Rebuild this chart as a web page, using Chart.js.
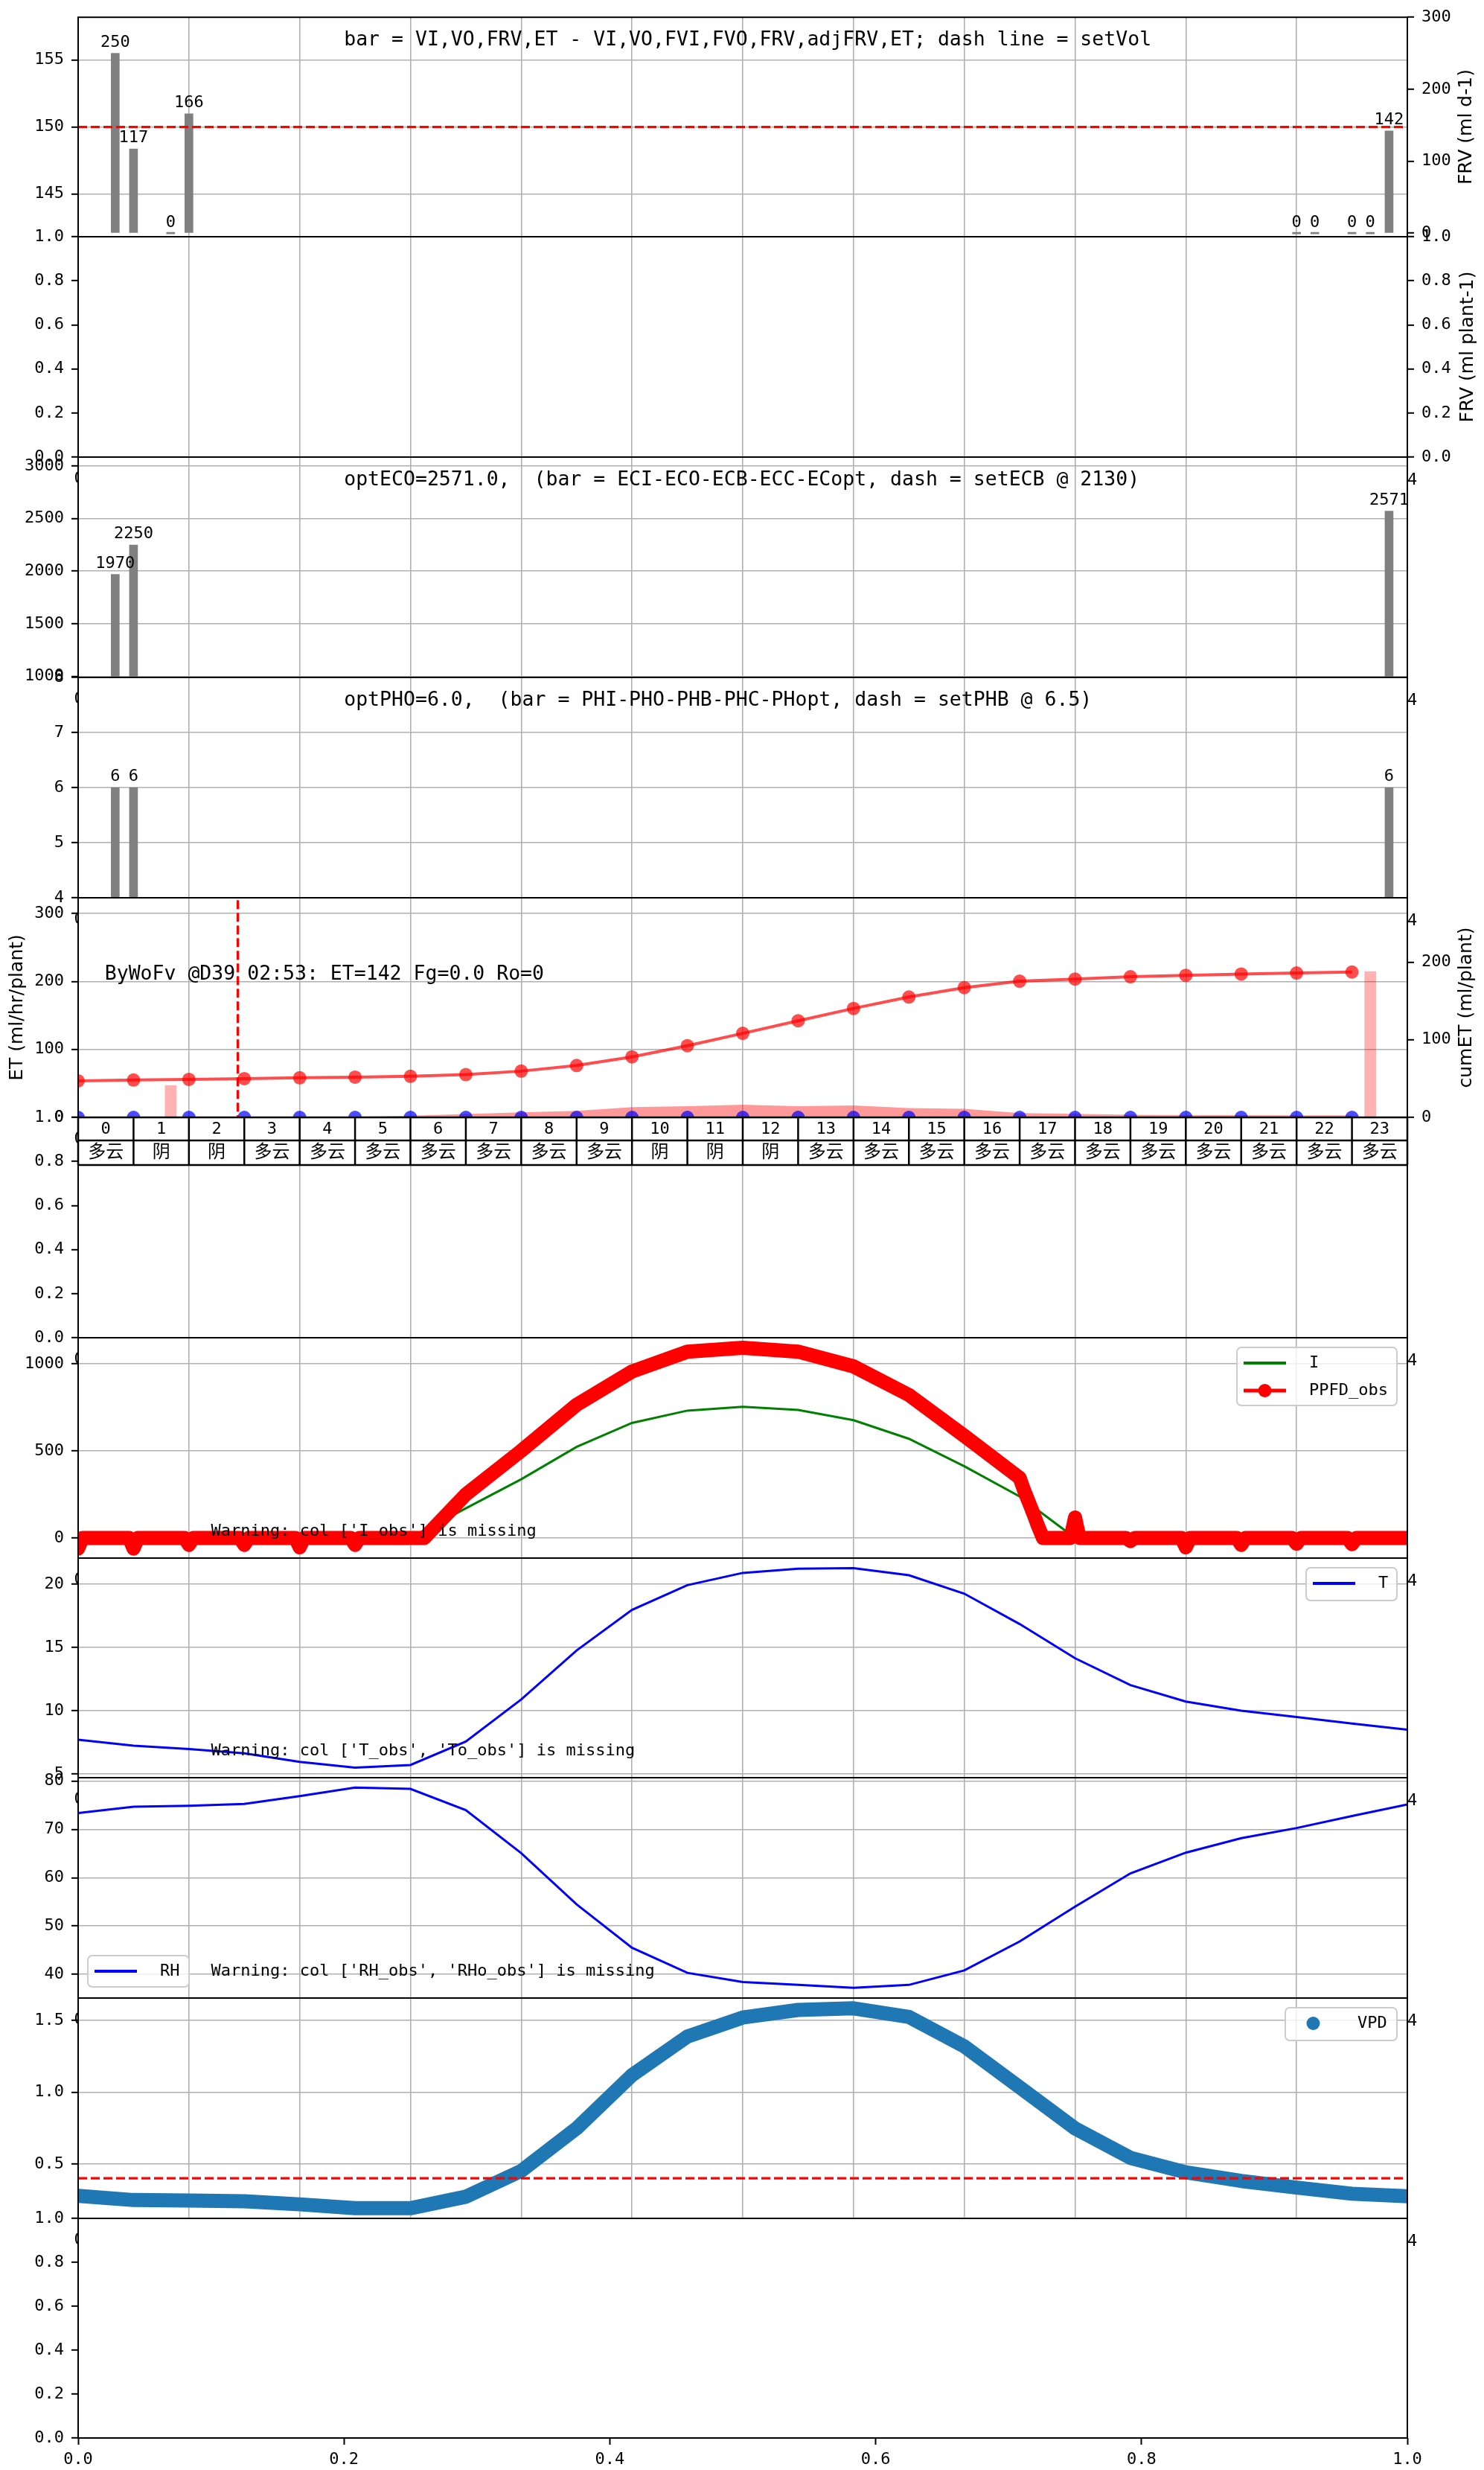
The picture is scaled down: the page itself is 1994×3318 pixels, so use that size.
<!DOCTYPE html>
<html lang="en">
<head>
<meta charset="UTF-8">
<title>Daily irrigation panels</title>
<style>
  html, body { margin: 0; padding: 0; background: #fff; }
  #wrap { position: relative; width: 1994px; height: 3318px; overflow: hidden; background: #fff; }
  #wrap canvas { position: absolute; left: 0; }
</style>
</head>
<body>
<div id="wrap"></div>
<script src="https://cdn.jsdelivr.net/npm/chart.js"></script>
<script>
// ---- values ----
const hours = [0, 1, 2, 3, 4, 5, 6, 7, 8, 9, 10, 11, 12, 13, 14, 15, 16, 17, 18, 19, 20, 21, 22, 23];
const hours25 = [0, 1, 2, 3, 4, 5, 6, 7, 8, 9, 10, 11, 12, 13, 14, 15, 16, 17, 18, 19, 20, 21, 22, 23, 24];

// irrigation events (hour of day) and FRV
const frvTimes = [0.67, 1.0, 1.67, 2.0, 22.0, 22.33, 23.0, 23.33, 23.67];
const frvValues = [250, 117, 0, 166, 0, 0, 0, 0, 142];
const setVolLine = [0, 24];
const setVol = 150;

const ecoTimes = [0.67, 1.0, 23.67];
const ecoValues = [1970, 2250, 2571];

const phoTimes = [0.67, 1.0, 23.67];
const phoValues = [6, 6, 6];

// ET panel
const cumET = [47.1, 48.1, 49.0, 50.0, 51.0, 51.9, 52.9, 55.1, 59.6, 66.9, 78.0, 92.4,
               108.3, 124.5, 140.4, 155.1, 167.2, 175.5, 178.3, 181.2, 183.1, 184.7, 186.0, 187.3];
const etHourly = [0, 0, 0, 0, 0.3, 1.0, 2.5, 4.8, 7.3, 9.5, 15.0, 16.5,
                  18.7, 16.5, 17.6, 13.6, 12.5, 6.2, 5.1, 3.7, 3.3, 3.3, 2.9, 2.9];
const obsZero = [0, 0, 0, 0, 0, 0, 0, 0, 0, 0, 0, 0, 0, 0, 0, 0, 0, 0, 0, 0, 0, 0, 0, 0];
const etBarTimes = [1.67, 23.33];
const etBarValues = [41, 188];
const nowHour = 2.883;
const nowSpan = [-10, 340];

// weather table
const weather = ['多云', '阴', '阴', '多云', '多云', '多云', '多云', '多云', '多云', '多云', '阴', '阴',
                 '阴', '多云', '多云', '多云', '多云', '多云', '多云', '多云', '多云', '多云', '多云', '多云'];

// light
const lightI = [0, 0, 0, 0, 0, 0, 0, 170, 337, 523, 661, 732, 754, 736, 677, 570, 412, 238, 0, 0, 0, 0, 0, 0];
const ppfdTimes = [0, 0.08, 0.92, 1, 1.08, 1.92, 2, 2.08, 2.92, 3, 3.08, 3.92, 4, 4.08, 4.92, 5, 5.08,
                   6.25, 7, 8, 9, 10, 11, 12, 13, 14, 15, 16, 17, 17.08, 17.17, 17.25, 17.33, 17.42,
                   17.92, 18, 18.08, 18.92, 19, 19.08, 19.92, 20, 20.08, 20.92, 21, 21.08, 21.92,
                   22, 22.08, 22.92, 23, 23.08, 24];
const ppfdValues = [-61, 0, 0, -61, 0, 0, -40, 0, 0, -40, 0, 0, -54, 0, 0, -40, 0,
                    0, 250, 501, 765, 957, 1071, 1093, 1071, 986, 822, 587, 345, 273, 202, 138, 70, 0,
                    0, 117, 0, 0, -18, 0, 0, -54, 0, 0, -40, 0, 0,
                    -33, 0, 0, -36, 0, 0];

// climate
const tempT = [7.72, 7.25, 6.98, 6.64, 5.97, 5.52, 5.72, 7.58, 10.9, 14.77, 17.98, 19.93, 20.9,
               21.23, 21.28, 20.72, 19.26, 16.86, 14.16, 12.03, 10.73, 10.01, 9.52, 9.0, 8.51];
const rhValues = [73.4, 74.7, 74.9, 75.3, 76.9, 78.7, 78.4, 74.0, 65.1, 54.5, 45.5, 40.3, 38.4,
                  37.8, 37.2, 37.8, 40.8, 46.8, 54.0, 60.9, 65.2, 68.2, 70.3, 72.8, 75.2];
const vpdValues = [0.277, 0.248, 0.244, 0.239, 0.218, 0.191, 0.191, 0.271, 0.451, 0.748, 1.119, 1.388, 1.521,
                   1.574, 1.585, 1.525, 1.32, 1.034, 0.748, 0.542, 0.441, 0.381, 0.335, 0.292, 0.275];
const vpdSet = 0.4;

// tick values
const hourGridTicks = [0, 2, 4, 6, 8, 10, 12, 14, 16, 18, 20, 22, 24];
const dayTicks = [0, 0.2, 0.4, 0.6, 0.8, 1.0];
const unitTicks = [0, 0.2, 0.4, 0.6, 0.8, 1.0];
const frvLeftTicks = [145, 150, 155];
const frvRightTicks = [0, 100, 200, 300];
const ecoTicks = [1000, 1500, 2000, 2500, 3000];
const phoTicks = [4, 5, 6, 7, 8];
const etTicks = [0, 100, 200, 300];
const cumTicks = [0, 100, 200];
const ppfdTicks = [0, 500, 1000];
const tTicks = [5, 10, 15, 20];
const rhTicks = [40, 50, 60, 70, 80];
const vpdTicks = [0.5, 1.0, 1.5];

const title1 = 'bar = VI,VO,FRV,ET - VI,VO,FVI,FVO,FRV,adjFRV,ET; dash line = setVol';
const title3 = 'optECO=2571.0,  (bar = ECI-ECO-ECB-ECC-ECopt, dash = setECB @ 2130)';
const title4 = 'optPHO=6.0,  (bar = PHI-PHO-PHB-PHC-PHopt, dash = setPHB @ 6.5)';
const etNote = 'ByWoFv @D39 02:53: ET=142 Fg=0.0 Ro=0';
const warnI = "Warning: col ['I_obs'] is missing";
const warnT = "Warning: col ['T_obs', 'To_obs'] is missing";
const warnRH = "Warning: col ['RH_obs', 'RHo_obs'] is missing";

// ---- layout ----
const FONT = "'DejaVu Sans Mono', 'Noto Sans CJK SC', monospace";
const LABEL_FONT = "'DejaVu Sans', 'Noto Sans CJK SC', sans-serif";
const FIG_W = 1994, FIG_H = 3318, PLOT_L = 105, PLOT_R = 1891;
const TOP0 = 22.7, PANEL_H = 295.7, MARGIN = 40;
const GRID = '#b0b0b0';
const wrap = document.getElementById('wrap');

Chart.defaults.font.family = FONT;
Chart.defaults.font.size = 22;
Chart.defaults.color = '#000';

const pts = (xs, ys) => xs.map((x, i) => ({ x: x, y: ys[i] }));
const f1 = v => Number(v).toFixed(1);
const fixTicks = vals => (s => { s.ticks = vals.map(v => ({ value: v })); });

function xAxis() {
    return {
        type: 'linear', position: 'bottom', min: 0, max: 24, offset: false,
        afterBuildTicks: fixTicks(hourGridTicks),
        ticks: { display: false },
        grid: { display: true, color: GRID, lineWidth: 1.6, drawTicks: false, offset: false },
        border: { display: false },
        afterFit: s => { s.height = 0; }
    };
}

function yAxis(pos, min, max, tickVals, opts) {
    opts = opts || {};
    return {
        type: 'linear', position: pos, min: min, max: max,
        afterBuildTicks: fixTicks(tickVals),
        ticks: { autoSkip: false, padding: 10, callback: opts.fmt || (v => String(v)) },
        grid: { display: true, drawOnChartArea: !!opts.grid, color: GRID, lineWidth: 1.6,
                drawTicks: true, tickLength: 9, tickColor: '#000', tickWidth: 2 },
        border: { display: false },
        afterFit: s => { s.width = pos === 'left' ? PLOT_L : FIG_W - PLOT_R; }
    };
}

function roundRect(ctx, x, y, w, h, r) {
    ctx.beginPath();
    ctx.moveTo(x + r, y);
    ctx.arcTo(x + w, y, x + w, y + h, r);
    ctx.arcTo(x + w, y + h, x, y + h, r);
    ctx.arcTo(x, y + h, x, y, r);
    ctx.arcTo(x, y, x + w, y, r);
    ctx.closePath();
}

function drawLegend(ctx, a, lg) {
    const x0 = lg.right != null ? a.right - lg.right - lg.w : a.left + lg.left;
    const y0 = lg.top != null ? a.top + lg.top : a.bottom - lg.bottom - lg.h;
    roundRect(ctx, x0, y0, lg.w, lg.h, 6);
    ctx.fillStyle = 'rgba(255,255,255,0.8)';
    ctx.fill();
    ctx.strokeStyle = '#cccccc';
    ctx.lineWidth = 2;
    ctx.stroke();
    lg.items.forEach((it, k) => {
        const cy = y0 + 21 + k * 37;
        if (it.lw) {
            ctx.strokeStyle = it.color;
            ctx.lineWidth = it.lw;
            ctx.beginPath();
            ctx.moveTo(x0 + 9, cy);
            ctx.lineTo(x0 + 66, cy);
            ctx.stroke();
        }
        if (it.r) {
            ctx.fillStyle = it.color;
            ctx.beginPath();
            ctx.arc(x0 + 37.5, cy, it.r, 0, Math.PI * 2);
            ctx.fill();
        }
        ctx.fillStyle = '#000';
        ctx.font = '22px ' + FONT;
        ctx.textAlign = 'left';
        ctx.textBaseline = 'middle';
        ctx.fillText(it.label, x0 + 97, cy);
    });
}

function drawTable(chart) {
    const ctx = chart.ctx, a = chart.chartArea, xs = chart.scales.x;
    const r1 = a.top, r2 = a.top + 31, r3 = a.top + 64;
    ctx.fillStyle = '#fff';
    ctx.fillRect(a.left, r1, a.right - a.left, r3 - r1);
    ctx.strokeStyle = '#000';
    ctx.lineWidth = 2.5;
    [r1, r2, r3].forEach(y => {
        ctx.beginPath(); ctx.moveTo(a.left, y); ctx.lineTo(a.right, y); ctx.stroke();
    });
    ctx.fillStyle = '#000';
    ctx.textAlign = 'center';
    ctx.textBaseline = 'middle';
    hours.forEach((h, k) => {
        const x0 = xs.getPixelForValue(h), x1 = xs.getPixelForValue(h + 1);
        ctx.beginPath(); ctx.moveTo(x0, r1); ctx.lineTo(x0, r3); ctx.stroke();
        ctx.font = '22px ' + FONT;
        ctx.fillText(String(h), (x0 + x1) / 2, r1 + 16);
        ctx.font = '24px ' + FONT;
        ctx.fillText(weather[k], (x0 + x1) / 2, r2 + 17);
    });
    ctx.beginPath(); ctx.moveTo(a.right, r1); ctx.lineTo(a.right, r3); ctx.stroke();
}

const deco = {
    id: 'deco',
    afterDatasetsDraw(chart, args, o) {
        const ctx = chart.ctx, a = chart.chartArea;
        ctx.save();
        chart.data.datasets.forEach((ds, di) => {
            if (!ds.valueLabels) return;
            ctx.font = '22px ' + FONT;
            ctx.fillStyle = '#000';
            ctx.textAlign = 'center';
            ctx.textBaseline = 'alphabetic';
            chart.getDatasetMeta(di).data.forEach((el, k) => {
                ctx.fillText(String(ds.data[k].y), el.x, el.y - 9);
            });
        });
        if (o.table) drawTable(chart);
        (o.texts || []).forEach(tx => {
            ctx.font = tx.font || ('22px ' + FONT);
            ctx.fillStyle = '#000';
            ctx.textAlign = 'left';
            ctx.textBaseline = 'alphabetic';
            const x = a.left + tx.fx * (a.right - a.left);
            const y = tx.top != null ? a.top + tx.top : a.bottom - tx.bottom;
            ctx.fillText(tx.text, x, y);
        });
        if (o.legend) drawLegend(ctx, a, o.legend);
        ctx.restore();
    },
    afterDraw(chart, args, o) {
        const ctx = chart.ctx, a = chart.chartArea;
        ctx.save();
        ctx.strokeStyle = '#000';
        ctx.lineWidth = 2;
        ctx.strokeRect(a.left, a.top, a.right - a.left, a.bottom - a.top);
        ctx.fillStyle = '#000';
        ctx.font = '22px ' + FONT;
        ctx.textBaseline = 'alphabetic';
        if (o.four) {
            ctx.textAlign = 'left';
            ctx.fillText('4', a.right, a.top + 37);
        }
        if (o.ghost) {
            ctx.save();
            ctx.beginPath();
            ctx.rect(a.left - 20, a.top + 2, 20, 50);
            ctx.clip();
            ctx.textAlign = 'center';
            ctx.fillText('0', a.left + 1, a.top + 35);
            ctx.restore();
        }
        (o.axisTitles || []).forEach(t => {
            ctx.save();
            ctx.translate(t.x, (a.top + a.bottom) / 2);
            ctx.rotate(-Math.PI / 2);
            ctx.font = '25px ' + LABEL_FONT;
            ctx.textAlign = 'center';
            ctx.textBaseline = 'middle';
            ctx.fillText(t.text, 0, 0);
            ctx.restore();
        });
        ctx.restore();
    }
};

function makePanel(i, cfg) {
    const t = Math.round(TOP0 + i * PANEL_H);
    const b = Math.round(TOP0 + (i + 1) * PANEL_H);
    const last = i === 10;
    const cTop = Math.max(0, t - MARGIN);
    const cBot = last ? FIG_H : b + MARGIN;
    const cv = document.createElement('canvas');
    cv.width = FIG_W;
    cv.height = cBot - cTop;
    cv.style.top = cTop + 'px';
    cv.style.width = FIG_W + 'px';
    cv.style.height = (cBot - cTop) + 'px';
    wrap.appendChild(cv);
    const scales = Object.assign({ x: cfg.x || xAxis() }, cfg.scales);
    return new Chart(cv, {
        type: 'line',
        data: { datasets: cfg.datasets || [] },
        options: {
            responsive: false,
            animation: false,
            devicePixelRatio: 1,
            layout: { padding: { top: t - cTop, bottom: last ? 0 : cBot - b, left: 0,
                                 right: scales.yR ? 0 : FIG_W - PLOT_R } },
            scales: scales,
            plugins: { legend: { display: false }, tooltip: { enabled: false }, deco: cfg.deco || {} }
        },
        plugins: [deco]
    });
}

const dashed = (xs, ys, axis, order) => ({
    type: 'line', data: pts(xs, ys), yAxisID: axis, order: order,
    borderColor: 'red', borderWidth: 3.3, borderDash: [12, 5], pointRadius: 0, clip: 0
});

// 1: FRV per irrigation
makePanel(0, {
    scales: {
        y: yAxis('left', 141.8, 158.2, frvLeftTicks, { grid: true }),
        yR: yAxis('right', -5, 300, frvRightTicks)
    },
    datasets: [
        dashed(setVolLine, [setVol, setVol], 'y', 0),
        { type: 'bar', data: pts(frvTimes, frvValues), yAxisID: 'yR', order: 1,
          backgroundColor: '#808080', barThickness: 11, minBarLength: 2, valueLabels: true }
    ],
    deco: { texts: [{ text: title1, fx: 0.2, top: 37.5, font: '26.5px ' + FONT }],
            axisTitles: [{ text: 'FRV (ml d-1)', x: 1970 }] }
});

// 2: empty FRV per plant
makePanel(1, {
    scales: {
        y: yAxis('left', 0, 1, unitTicks, { fmt: f1 }),
        yR: yAxis('right', 0, 1, unitTicks, { fmt: f1 })
    },
    deco: { axisTitles: [{ text: 'FRV (ml plant-1)', x: 1972 }] }
});

// 3: EC
makePanel(2, {
    scales: { y: yAxis('left', 990, 3085, ecoTicks, { grid: true }) },
    datasets: [
        { type: 'bar', data: pts(ecoTimes, ecoValues), yAxisID: 'y',
          backgroundColor: '#808080', barThickness: 11, valueLabels: true }
    ],
    deco: { texts: [{ text: title3, fx: 0.2, top: 38, font: '26.5px ' + FONT }], four: true, ghost: true }
});

// 4: pH
makePanel(3, {
    scales: { y: yAxis('left', 4, 8, phoTicks, { grid: true }) },
    datasets: [
        { type: 'bar', data: pts(phoTimes, phoValues), yAxisID: 'y',
          backgroundColor: '#808080', barThickness: 11, valueLabels: true }
    ],
    deco: { texts: [{ text: title4, fx: 0.2, top: 38, font: '26.5px ' + FONT }], four: true, ghost: true }
});

// 5: ET
makePanel(4, {
    scales: {
        y: yAxis('left', 0, 323, etTicks, { grid: true }),
        yR: yAxis('right', 0, 283, cumTicks)
    },
    datasets: [
        { type: 'line', data: pts(hours, cumET), yAxisID: 'yR', order: 0, clip: 0,
          borderColor: 'rgba(255,0,0,0.7)', borderWidth: 4, pointRadius: 9, pointBorderWidth: 0,
          pointBackgroundColor: 'rgba(255,0,0,0.7)' },
        dashed([nowHour, nowHour], nowSpan, 'y', 1),
        { type: 'line', data: pts(hours, obsZero), yAxisID: 'y', order: 2, clip: 0, showLine: false,
          pointRadius: 9, pointBorderWidth: 0, pointBackgroundColor: 'rgba(0,0,255,0.7)' },
        { type: 'bar', data: pts(etBarTimes, etBarValues), yAxisID: 'yR', order: 3,
          backgroundColor: 'rgba(255,0,0,0.3)', barThickness: 15 },
        { type: 'line', data: pts(hours, etHourly), yAxisID: 'y', order: 4, clip: 0,
          fill: 'origin', backgroundColor: 'rgba(255,0,0,0.4)', borderWidth: 0, pointRadius: 0 }
    ],
    deco: { texts: [{ text: etNote, fx: 0.02, top: 109.5, font: '26.5px ' + FONT }],
            four: true, ghost: true,
            axisTitles: [{ text: 'ET (ml/hr/plant)', x: 23 }, { text: 'cumET (ml/plant)', x: 1970 }] }
});

// 6: weather table
makePanel(5, {
    scales: { y: yAxis('left', 0, 1, unitTicks, { fmt: f1 }) },
    deco: { table: true, ghost: true }
});

// 7: light
makePanel(6, {
    scales: { y: yAxis('left', -116, 1151, ppfdTicks, { grid: true }) },
    datasets: [
        { type: 'line', data: pts(ppfdTimes, ppfdValues), yAxisID: 'y', order: 0, clip: 0,
          borderColor: '#ff0000', borderWidth: 19, borderJoinStyle: 'round', borderCapStyle: 'round',
          pointRadius: 9, pointBorderWidth: 0, pointBackgroundColor: '#ff0000' },
        { type: 'line', data: pts(hours, lightI), yAxisID: 'y', order: 1, clip: 0,
          borderColor: 'green', borderWidth: 3, pointRadius: 0 }
    ],
    deco: { texts: [{ text: warnI, fx: 0.1, bottom: 29.6 }], four: true, ghost: true,
            legend: { right: 14, top: 13, w: 215, h: 78, items: [
                { label: 'I', color: 'green', lw: 4 },
                { label: 'PPFD_obs', color: '#ff0000', lw: 5, r: 9 }] } }
});

// 8: temperature
makePanel(7, {
    scales: { y: yAxis('left', 4.72, 22.07, tTicks, { grid: true }) },
    datasets: [
        { type: 'line', data: pts(hours25, tempT), yAxisID: 'y', clip: 0,
          borderColor: 'blue', borderWidth: 3, pointRadius: 0 }
    ],
    deco: { texts: [{ text: warnT, fx: 0.1, bottom: 29.6 }], four: true, ghost: true,
            legend: { right: 14, top: 13, w: 122, h: 44, items: [{ label: 'T', color: 'blue', lw: 4 }] } }
});

// 9: relative humidity
makePanel(8, {
    scales: { y: yAxis('left', 35.08, 80.73, rhTicks, { grid: true }) },
    datasets: [
        { type: 'line', data: pts(hours25, rhValues), yAxisID: 'y', clip: 0,
          borderColor: 'blue', borderWidth: 3, pointRadius: 0 }
    ],
    deco: { texts: [{ text: warnRH, fx: 0.1, bottom: 30 }], four: true, ghost: true,
            legend: { left: 13, bottom: 15, w: 136, h: 42, items: [{ label: 'RH', color: 'blue', lw: 4 }] } }
});

// 10: VPD
makePanel(9, {
    scales: { y: yAxis('left', 0.12, 1.657, vpdTicks, { grid: true, fmt: f1 }) },
    datasets: [
        dashed(setVolLine, [vpdSet, vpdSet], 'y', 0),
        { type: 'line', data: pts(hours25, vpdValues), yAxisID: 'y', order: 1, clip: 0,
          borderColor: '#1f77b4', borderWidth: 19, borderJoinStyle: 'round', pointRadius: 0 }
    ],
    deco: { four: true, ghost: true,
            legend: { right: 14, top: 13, w: 150, h: 44, items: [{ label: 'VPD', color: '#1f77b4', r: 9 }] } }
});

// 11: empty bottom panel with the shared x axis
makePanel(10, {
    x: {
        type: 'linear', position: 'bottom', min: 0, max: 1, offset: false,
        afterBuildTicks: fixTicks(dayTicks),
        ticks: { autoSkip: false, padding: 7, maxRotation: 0, callback: f1 },
        grid: { display: true, drawOnChartArea: false, drawTicks: true, tickLength: 9,
                tickColor: '#000', tickWidth: 2 },
        border: { display: false },
        afterFit: s => { s.height = 43; }
    },
    scales: { y: yAxis('left', 0, 1, unitTicks, { fmt: f1 }) },
    deco: { four: true, ghost: true }
});
</script>
</body>
</html>
